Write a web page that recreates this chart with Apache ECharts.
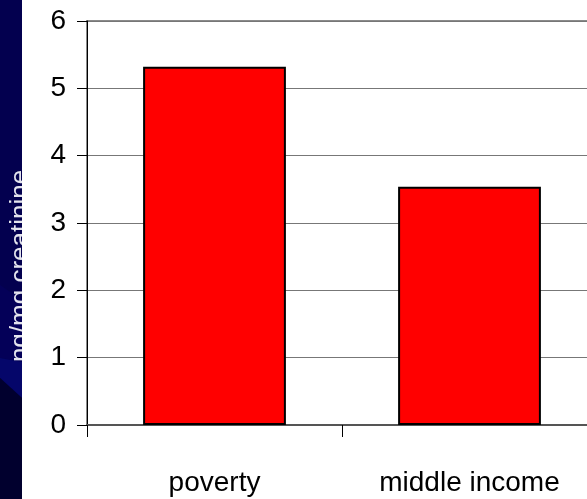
<!DOCTYPE html>
<html>
<head>
<meta charset="utf-8">
<script src="https://cdn.jsdelivr.net/npm/echarts@6/dist/echarts.min.js"></script>
<style>
  html, body { margin: 0; padding: 0; background: #ffffff; }
  #chart { width: 587px; height: 499px; }
</style>
</head>
<body>
<div id="chart"></div>
<script>
// Creatinine-adjusted levels by income group
const categories = ['poverty', 'middle income'];
const values = [5.32, 3.54];
const yTicks = [0, 1, 2, 3, 4, 5, 6];
const unitLabel = 'ng/mg creatinine';

const FONT = '"Liberation Sans", Arial, sans-serif';
const chart = echarts.init(document.getElementById('chart'), null, { renderer: 'canvas' });

chart.setOption({
  backgroundColor: '#ffffff',
  animation: false,
  grid: {
    // plot area runs past the right edge of the page
    left: 87, top: 21, width: 510, height: 404,
    outerBoundsMode: 'none',
    containLabel: false,
    show: true, borderColor: '#8a8a8a', borderWidth: 2, backgroundColor: 'transparent'
  },
  graphic: [
    // dark slide strip on the left edge
    { type: 'rect', z: 0, shape: { x: 0, y: 0, width: 22, height: 499 }, style: { fill: '#03004f' } },
    { type: 'polygon', z: 1, shape: { points: [[0, 285], [22, 300], [22, 362], [0, 358]] }, style: { fill: '#040058' } },
    { type: 'polygon', z: 1, shape: { points: [[0, 358], [22, 362], [22, 398], [0, 378]] }, style: { fill: '#05066a' } },
    { type: 'polygon', z: 1, shape: { points: [[0, 378], [22, 398], [22, 499], [0, 499]] }, style: { fill: '#01002e' } },
    {
      type: 'text', z: 2, x: 21, y: 266, rotation: Math.PI / 2,
      style: {
        text: unitLabel, fill: '#e4e4ee', font: '26px ' + FONT,
        align: 'center', verticalAlign: 'middle'
      }
    },
    // white page beside the strip hides the clipped part of the label
    { type: 'rect', z: 3, shape: { x: 22, y: 0, width: 24, height: 499 }, style: { fill: '#ffffff' } }
  ],
  xAxis: {
    type: 'category',
    data: categories,
    boundaryGap: true,
    axisLine: { show: true, lineStyle: { color: '#555555', width: 2 } },
    axisTick: { show: true, length: 12, lineStyle: { color: '#000000', width: 1 } },
    axisLabel: { color: '#000000', fontSize: 28, fontFamily: FONT, margin: 44 },
    splitLine: { show: false }
  },
  yAxis: {
    type: 'value',
    min: yTicks[0],
    max: yTicks[yTicks.length - 1],
    interval: 1,
    axisLine: { show: true, lineStyle: { color: '#000000', width: 1 } },
    axisTick: { show: true, length: 10, lineStyle: { color: '#000000', width: 1 } },
    axisLabel: { color: '#000000', fontSize: 28, fontFamily: FONT, margin: 21 },
    splitLine: { show: true, lineStyle: { color: '#777777', width: 1 } }
  },
  series: [{
    type: 'bar',
    data: values,
    barWidth: '56%',
    itemStyle: { color: '#ff0000', borderColor: '#000000', borderWidth: 2 }
  }]
});
</script>
</body>
</html>
